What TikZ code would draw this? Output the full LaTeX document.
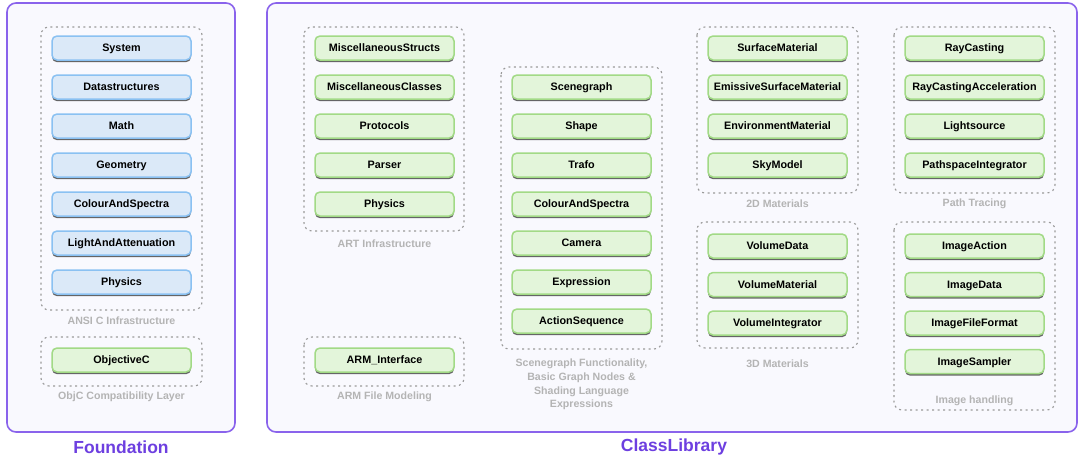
\documentclass[tikz,border=0pt]{standalone}
\usepackage{fontspec}
\setmainfont{Liberation Sans}
\usetikzlibrary{shadows}
\definecolor{panelborder}{HTML}{8A63EC}
\definecolor{panelfill}{HTML}{F9F9FE}
\definecolor{titlecol}{HTML}{6D3FE0}
\definecolor{greenfill}{HTML}{E3F5DA}
\definecolor{greenline}{HTML}{A2DA86}
\definecolor{bluefill}{HTML}{DBE9F8}
\definecolor{blueline}{HTML}{8AC1F2}
\definecolor{grouptext}{HTML}{B4B4B4}
\definecolor{groupline}{HTML}{9A9A9A}
\tikzset{
 panel/.style={draw=panelborder, line width=1.6pt, fill=panelfill, rounded corners=9pt},
 grp/.style={draw=groupline, line width=1.1pt, dash pattern=on 2pt off 3.5pt, rounded corners=8pt},
 modbox/.style={rounded corners=5pt, minimum width=139pt, minimum height=24pt, line width=1.5pt,
   font=\bfseries\fontsize{10.8}{12}\selectfont, inner sep=0pt, text height=7.7pt, text depth=0pt,
   drop shadow={shadow xshift=0pt, shadow yshift=-2.2pt, fill=black!70, opacity=0.85}},
 gm/.style={modbox, fill=greenfill, draw=greenline},
 bm/.style={modbox, fill=bluefill, draw=blueline},
 glabel/.style={text=grouptext, font=\bfseries\fontsize{10.6}{13.7}\selectfont, align=center, inner sep=0pt},
 title/.style={text=titlecol, font=\bfseries\fontsize{17.5}{20}\selectfont, inner sep=0pt}
}
\begin{document}
\begin{tikzpicture}[x=1pt,y=-1pt]
\useasboundingbox (0,0) rectangle (1079,461);
% panels
\draw[panel] (7,3) rectangle (235,432);
\draw[panel] (267,3) rectangle (1077,432);
\node[title] (tFound) at (121,447) {Foundation};
\node[title] (tClass) at (674,447) {ClassLibrary};
% groups
\draw[grp] (41,27) rectangle (202,310);
\draw[grp] (41,337) rectangle (202,386);
\draw[grp] (304,27) rectangle (464,231);
\draw[grp] (304,337) rectangle (464,386);
\draw[grp] (501,67) rectangle (662,349);
\draw[grp] (697,27) rectangle (858,193);
\draw[grp] (894,27) rectangle (1055,193);
\draw[grp] (697,222) rectangle (858,348);
\draw[grp] (894,222) rectangle (1055,410);
% group labels
\node[glabel] (lAnsi) at (121.5,321) {ANSI C Infrastructure};
\node[glabel] (lObjc) at (121.5,397) {ObjC Compatibility Layer};
\node[glabel] (lArt) at (384.5,244) {ART Infrastructure};
\node[glabel] (lArm) at (384.5,397) {ARM File Modeling};
\node[glabel] (lScene) at (581.5,384.5) {Scenegraph Functionality,\\Basic Graph Nodes \&\\Shading Language\\Expressions};
\node[glabel] (l2d) at (777.5,204) {2D Materials};
\node[glabel] (lPath) at (974.5,204) {Path Tracing};
\node[glabel] (l3d) at (777.5,364) {3D Materials};
\node[glabel] (lImg) at (974.5,401) {Image handling};
% Foundation modules
\node[bm] (fSystem) at (121.5,48) {System};
\node[bm] (fData) at (121.5,87) {Datastructures};
\node[bm] (fMath) at (121.5,126) {Math};
\node[bm] (fGeom) at (121.5,165) {Geometry};
\node[bm] (fColour) at (121.5,204) {ColourAndSpectra};
\node[bm] (fLight) at (121.5,243) {LightAndAttenuation};
\node[bm] (fPhys) at (121.5,282) {Physics};
\node[gm] (fObjc) at (121.5,360) {ObjectiveC};
% ART infrastructure
\node[gm] (aStructs) at (384.5,48) {MiscellaneousStructs};
\node[gm] (aClasses) at (384.5,87) {MiscellaneousClasses};
\node[gm] (aProt) at (384.5,126) {Protocols};
\node[gm] (aParser) at (384.5,165) {Parser};
\node[gm] (aPhys) at (384.5,204) {Physics};
\node[gm] (aArm) at (384.5,360) {ARM\_Interface};
% Scenegraph
\node[gm] (sScene) at (581.5,87) {Scenegraph};
\node[gm] (sShape) at (581.5,126) {Shape};
\node[gm] (sTrafo) at (581.5,165) {Trafo};
\node[gm] (sColour) at (581.5,204) {ColourAndSpectra};
\node[gm] (sCam) at (581.5,243) {Camera};
\node[gm] (sExpr) at (581.5,282) {Expression};
\node[gm] (sAct) at (581.5,321) {ActionSequence};
% 2D materials
\node[gm] (mSurf) at (777.5,48) {SurfaceMaterial};
\node[gm] (mEmis) at (777.5,87) {EmissiveSurfaceMaterial};
\node[gm] (mEnv) at (777.5,126) {EnvironmentMaterial};
\node[gm] (mSky) at (777.5,165) {SkyModel};
% Path tracing
\node[gm] (pRay) at (974.5,48) {RayCasting};
\node[gm] (pAcc) at (974.5,87) {RayCastingAcceleration};
\node[gm] (pLight) at (974.5,126) {Lightsource};
\node[gm] (pInt) at (974.5,165) {PathspaceIntegrator};
% 3D materials
\node[gm] (vData) at (777.5,246) {VolumeData};
\node[gm] (vMat) at (777.5,284.5) {VolumeMaterial};
\node[gm] (vInt) at (777.5,323) {VolumeIntegrator};
% Image handling
\node[gm] (iAct) at (974.5,246) {ImageAction};
\node[gm] (iData) at (974.5,284.5) {ImageData};
\node[gm] (iFmt) at (974.5,323) {ImageFileFormat};
\node[gm] (iSamp) at (974.5,361.5) {ImageSampler};
\end{tikzpicture}
\end{document}
